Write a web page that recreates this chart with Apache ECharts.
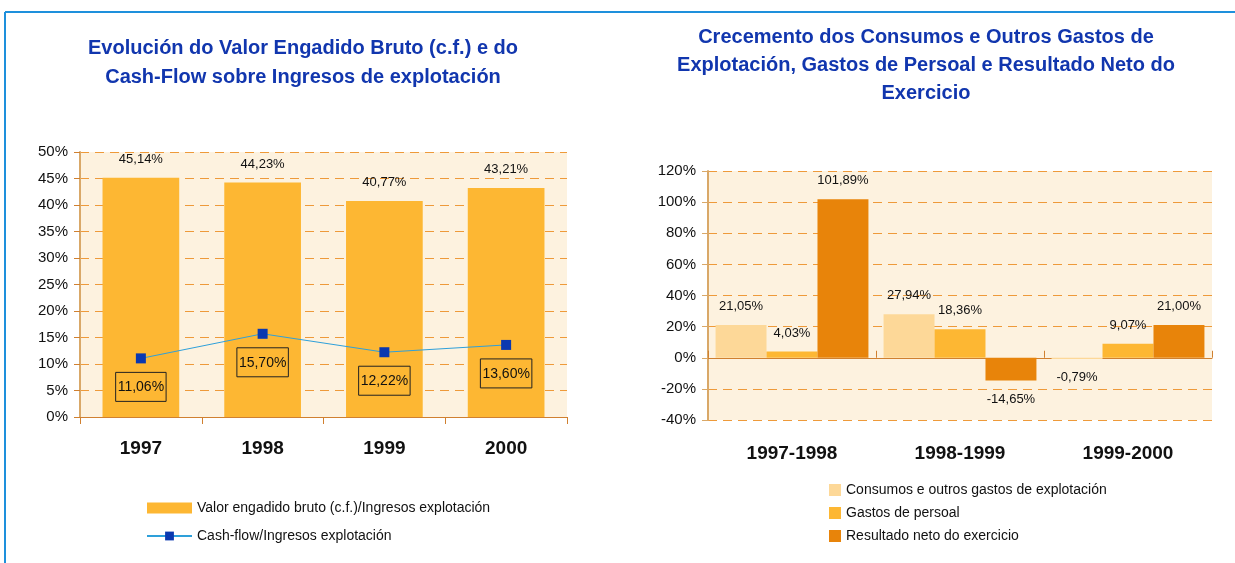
<!DOCTYPE html>
<html><head><meta charset="utf-8">
<script src="https://cdn.jsdelivr.net/npm/echarts@6/dist/echarts.min.js"></script>
<style>html,body{margin:0;padding:0;background:#fff}#c{width:1235px;height:563px}</style>
</head><body><div id="c"></div>
<script>
const years = ['1997','1998','1999','2000'];
const vabRatio = [45.14, 44.23, 40.77, 43.21];
const cashFlowRatio = [11.06, 15.70, 12.22, 13.60];
const leftTicks = {min: 0, max: 50, interval: 5};

const periods = ['1997-1998','1998-1999','1999-2000'];
const consumos = [21.05, 27.94, -0.79];
const persoal = [4.03, 18.36, 9.07];
const resultado = [101.89, -14.65, 21.00];
const rightTicks = {min: -40, max: 120, interval: 20};

const seriesNames = {
  vab: 'Valor engadido bruto (c.f.)/Ingresos explotación',
  cf: 'Cash-flow/Ingresos explotación',
  consumos: 'Consumos e outros gastos de explotación',
  persoal: 'Gastos de persoal',
  resultado: 'Resultado neto do exercicio'
};

const FONT = '"Liberation Sans", Arial, sans-serif';
const fmt = v => v.toFixed(2).replace('.', ',') + '%';
const gridLine = {show: true, lineStyle: {color: '#EE9A3A', type: [9, 6], width: 1}};
const bg = '#FDF2DF';

function signed(arr) {
  return arr.map(v => ({value: v, label: {position: v < 0 ? 'bottom' : 'top'}}));
}
const barLabel = {show: true, distance: 12, fontFamily: FONT, fontSize: 13, color: '#111',
  formatter: p => fmt(p.value)};

const chart = echarts.init(document.getElementById('c'));
chart.setOption({
  animation: false,
  textStyle: {fontFamily: FONT},
  graphic: [
    {type: 'line', shape: {x1: 5, y1: 12, x2: 1235, y2: 12}, style: {stroke: '#1E90DC', lineWidth: 2}},
    {type: 'line', shape: {x1: 5, y1: 12, x2: 5, y2: 563}, style: {stroke: '#1E90DC', lineWidth: 2}}
  ],
  title: [
    {text: 'Evolución do Valor Engadido Bruto (c.f.) e do\nCash-Flow sobre Ingresos de explotación',
     left: 298, top: 29, textAlign: 'center',
     textStyle: {fontFamily: FONT, fontSize: 20, fontWeight: 'bold', color: '#1136AE', lineHeight: 29}},
    {text: 'Crecemento dos Consumos e Outros Gastos de\nExplotación, Gastos de Persoal e Resultado Neto do\nExercicio',
     left: 921, top: 18, textAlign: 'center',
     textStyle: {fontFamily: FONT, fontSize: 20, fontWeight: 'bold', color: '#1136AE', lineHeight: 28}}
  ],
  legend: [
    {orient: 'vertical', left: 146, top: 500, padding: 0, itemWidth: 45, itemHeight: 11, itemGap: 12,
     data: [{name: seriesNames.vab, icon: 'rect'}, {name: seriesNames.cf}],
     textStyle: {fontFamily: FONT, fontSize: 14, color: '#111', lineHeight: 16}},
    {orient: 'vertical', left: 829, top: 482, padding: 0, itemWidth: 12, itemHeight: 12, itemGap: 7,
     icon: 'rect',
     data: [seriesNames.consumos, seriesNames.persoal, seriesNames.resultado],
     textStyle: {fontFamily: FONT, fontSize: 14, color: '#111', lineHeight: 16}}
  ],
  grid: [
    {left: 80, top: 152, width: 487, height: 265, show: true, backgroundColor: bg, borderWidth: 0},
    {left: 708, top: 171, width: 504, height: 249, show: true, backgroundColor: bg, borderWidth: 0}
  ],
  xAxis: [
    {gridIndex: 0, type: 'category', data: years,
     axisLine: {lineStyle: {color: '#D08030', width: 1}},
     axisTick: {show: true, length: 7, lineStyle: {color: '#D08030'}},
     axisLabel: {margin: 22, fontFamily: FONT, fontSize: 19, fontWeight: 'bold', color: '#111'}},
    {gridIndex: 1, type: 'category', data: periods, position: 'bottom',
     axisLine: {show: false, onZero: false}, axisTick: {show: false},
     axisLabel: {margin: 24, fontFamily: FONT, fontSize: 19, fontWeight: 'bold', color: '#111'}},
    {gridIndex: 1, type: 'category', data: periods,
     axisLine: {onZero: true, lineStyle: {color: '#D08030', width: 1}},
     axisTick: {show: true, length: 7, lineStyle: {color: '#D08030'}},
     axisLabel: {show: false}}
  ],
  yAxis: [
    {gridIndex: 0, type: 'value', min: leftTicks.min, max: leftTicks.max, interval: leftTicks.interval,
     axisLine: {show: true, lineStyle: {color: '#D9A868', width: 2}},
     axisTick: {show: true, length: 6, lineStyle: {color: '#D08030'}},
     axisLabel: {formatter: '{value}%', margin: 12, fontFamily: FONT, fontSize: 15, color: '#111'},
     splitLine: gridLine},
    {gridIndex: 1, type: 'value', min: rightTicks.min, max: rightTicks.max, interval: rightTicks.interval,
     axisLine: {show: true, lineStyle: {color: '#D9A868', width: 2}},
     axisTick: {show: true, length: 6, lineStyle: {color: '#D9A868'}},
     axisLabel: {formatter: '{value}%', margin: 12, fontFamily: FONT, fontSize: 15, color: '#111'},
     splitLine: gridLine}
  ],
  series: [
    {name: seriesNames.vab, type: 'bar', xAxisIndex: 0, yAxisIndex: 0, data: vabRatio,
     barCategoryGap: '37%', itemStyle: {color: '#FDB733'},
     label: Object.assign({}, barLabel, {position: 'top'})},
    {name: seriesNames.cf, type: 'line', xAxisIndex: 0, yAxisIndex: 0, data: cashFlowRatio,
     symbol: 'rect', symbolSize: 10, itemStyle: {color: '#0A38B0'},
     lineStyle: {color: '#2EA0DA', width: 1},
     label: {show: true, position: 'bottom', distance: 9, fontFamily: FONT, fontSize: 14, color: '#111',
       borderColor: '#222', borderWidth: 1, padding: [8, 2, 7, 2],
       formatter: p => fmt(p.value)}},
    {name: seriesNames.consumos, type: 'bar', xAxisIndex: 2, yAxisIndex: 1, data: signed(consumos),
     barGap: '0%', barCategoryGap: '9%', itemStyle: {color: '#FDD898'}, label: barLabel},
    {name: seriesNames.persoal, type: 'bar', xAxisIndex: 2, yAxisIndex: 1, data: signed(persoal),
     barGap: '0%', barCategoryGap: '9%', itemStyle: {color: '#FDB733'}, label: barLabel},
    {name: seriesNames.resultado, type: 'bar', xAxisIndex: 2, yAxisIndex: 1, data: signed(resultado),
     barGap: '0%', barCategoryGap: '9%', itemStyle: {color: '#E8840A'}, label: barLabel}
  ]
});
</script></body></html>
